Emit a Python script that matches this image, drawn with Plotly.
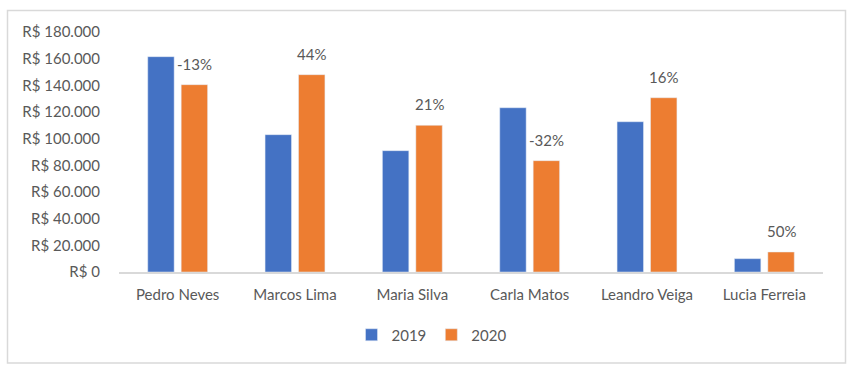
import plotly.graph_objects as go

categories = ["Pedro Neves", "Marcos Lima", "Maria Silva", "Carla Matos", "Leandro Veiga", "Lucia Ferreia"]
values_2019 = [161500, 103000, 91000, 123200, 112700, 10000]
values_2020 = [140500, 148000, 110000, 83500, 130700, 15000]
pct_labels = ["-13%", "44%", "21%", "-32%", "16%", "50%"]
y_ticks = [0, 20000, 40000, 60000, 80000, 100000, 120000, 140000, 160000, 180000]
y_tick_text = ["R$ " + format(v, ",d").replace(",", ".") for v in y_ticks]

W, H = 853, 372
L, R, T, B = 119, 30, 32, 100
pw, ph = W - L - R, H - T - B

FONT = "Lato, Calibri, Arial, sans-serif"
GREY = "#595959"

fig = go.Figure()
fig.add_trace(go.Bar(name="2019", x=categories, y=values_2019, marker_color="#4472C4"))
fig.add_trace(go.Bar(name="2020", x=categories, y=values_2020, marker_color="#ED7D31"))

for cat, v, lab in zip(categories, values_2020, pct_labels):
    fig.add_annotation(x=cat, y=v, text=lab, showarrow=False, xref="x", yref="y",
                       xshift=16.8, yanchor="bottom", yshift=10,
                       font=dict(family=FONT, size=15, color=GREY))

def px_x(p):
    return (p - L) / pw

def px_y(p):
    return (H - B - p) / ph

fig.add_shape(type="rect", xref="paper", yref="paper",
              x0=px_x(7.5), x1=px_x(845.5), y0=px_y(10.5), y1=px_y(363),
              line=dict(color="#D9D9D9", width=1.5), fillcolor="rgba(0,0,0,0)", layer="below")

fig.update_layout(
    width=W, height=H,
    margin=dict(l=L, r=R, t=T, b=B, autoexpand=False),
    paper_bgcolor="white", plot_bgcolor="white",
    barmode="group", bargap=0.43, bargroupgap=0.21,
    font=dict(family=FONT, size=15, color=GREY),
    showlegend=True,
    legend=dict(orientation="h", x=px_x(431.5), xanchor="center", y=px_y(335), yanchor="middle",
                font=dict(family=FONT, size=15, color=GREY), itemwidth=30, traceorder="normal"),
    xaxis=dict(showgrid=False, showline=True, linecolor="#D9D9D9", linewidth=1.5,
               ticks="", tickfont=dict(family=FONT, size=15, color=GREY), ticklabelstandoff=8,
               zeroline=False, automargin=False),
    yaxis=dict(range=[0, 180000], tickvals=y_ticks, ticktext=y_tick_text,
               showgrid=False, zeroline=False, showline=False, ticks="",
               tickfont=dict(family=FONT, size=15, color=GREY), ticklabelstandoff=18,
               automargin=False),
)

fig.write_html("out.html", config={"displayModeBar": False},
               post_script="document.body.style.margin='0';document.body.style.overflow='hidden';")
